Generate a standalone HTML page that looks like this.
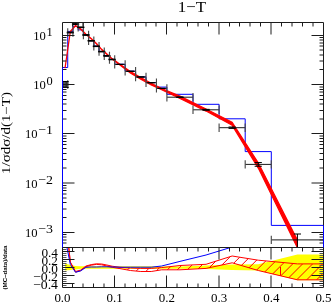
<!DOCTYPE html>
<html><head><meta charset="utf-8"><title>1-T</title>
<style>html,body{margin:0;padding:0;background:#fff;}svg{display:block;will-change:transform;}</style>
</head><body>
<svg width="332" height="303" viewBox="0 0 332 303">
<defs>
<clipPath id="cm"><rect x="62.5" y="22.5" width="261.0" height="225.0"/></clipPath>
<clipPath id="cr"><rect x="62.5" y="247.5" width="261.0" height="40.0"/></clipPath>
<clipPath id="ch"><polygon points="70.33,262.00 75.55,271.50 80.77,270.00 85.99,266.00 91.21,264.60 96.43,263.80 101.65,264.00 106.87,265.00 112.09,266.20 119.92,267.30 130.36,268.00 140.80,268.40 151.24,268.40 161.68,267.60 179.95,265.50 206.05,264.30 232.15,256.00 258.25,260.20 297.40,263.90 323.50,263.90 323.50,279.80 297.40,279.80 258.25,270.50 232.15,262.80 206.05,268.40 179.95,269.80 161.68,269.80 151.24,271.50 140.80,271.50 130.36,270.50 119.92,268.60 112.09,267.30 106.87,266.00 101.65,264.80 96.43,264.40 91.21,265.20 85.99,266.60 80.77,270.60 75.55,272.10 70.33,262.60"/></clipPath>
</defs>
<rect width="332" height="303" fill="#fff"/>
<g clip-path="url(#cr)">
<polygon fill="#ffff00" points="65.11,263.60 70.33,265.00 75.55,266.00 80.77,266.30 85.99,266.30 91.21,266.30 96.43,266.30 101.65,266.30 106.87,266.30 112.09,266.30 119.92,266.30 130.36,266.30 140.80,266.30 151.24,266.30 161.68,266.40 179.95,266.50 206.05,265.50 232.15,264.60 258.25,264.30 297.40,254.40 323.50,254.40 323.50,280.20 297.40,280.20 258.25,270.60 232.15,270.00 206.05,269.10 179.95,268.80 161.68,268.70 151.24,268.70 140.80,268.70 130.36,268.70 119.92,268.70 112.09,268.70 106.87,268.70 101.65,268.70 96.43,268.70 91.21,268.70 85.99,268.70 80.77,268.70 75.55,269.50 70.33,270.00 65.11,270.60"/>
<g clip-path="url(#ch)" stroke="#ff0000" stroke-width="1">
<line x1="7.9" y1="290" x2="52.9" y2="245"/>
<line x1="17.8" y1="290" x2="62.8" y2="245"/>
<line x1="27.8" y1="290" x2="72.8" y2="245"/>
<line x1="37.7" y1="290" x2="82.7" y2="245"/>
<line x1="47.7" y1="290" x2="92.7" y2="245"/>
<line x1="57.6" y1="290" x2="102.6" y2="245"/>
<line x1="67.6" y1="290" x2="112.6" y2="245"/>
<line x1="77.5" y1="290" x2="122.5" y2="245"/>
<line x1="87.5" y1="290" x2="132.5" y2="245"/>
<line x1="97.4" y1="290" x2="142.4" y2="245"/>
<line x1="107.4" y1="290" x2="152.4" y2="245"/>
<line x1="117.3" y1="290" x2="162.3" y2="245"/>
<line x1="127.3" y1="290" x2="172.3" y2="245"/>
<line x1="137.2" y1="290" x2="182.2" y2="245"/>
<line x1="147.2" y1="290" x2="192.2" y2="245"/>
<line x1="157.1" y1="290" x2="202.1" y2="245"/>
<line x1="167.1" y1="290" x2="212.1" y2="245"/>
<line x1="177.0" y1="290" x2="222.0" y2="245"/>
<line x1="187.0" y1="290" x2="232.0" y2="245"/>
<line x1="196.9" y1="290" x2="241.9" y2="245"/>
<line x1="206.9" y1="290" x2="251.9" y2="245"/>
<line x1="216.8" y1="290" x2="261.8" y2="245"/>
<line x1="226.8" y1="290" x2="271.8" y2="245"/>
<line x1="236.7" y1="290" x2="281.7" y2="245"/>
<line x1="246.7" y1="290" x2="291.7" y2="245"/>
<line x1="256.6" y1="290" x2="301.6" y2="245"/>
<line x1="266.6" y1="290" x2="311.6" y2="245"/>
<line x1="276.5" y1="290" x2="321.5" y2="245"/>
<line x1="286.5" y1="290" x2="331.5" y2="245"/>
<line x1="296.5" y1="290" x2="341.5" y2="245"/>
<line x1="306.4" y1="290" x2="351.4" y2="245"/>
<line x1="316.4" y1="290" x2="361.4" y2="245"/>
<line x1="326.3" y1="290" x2="371.3" y2="245"/>
<line x1="336.3" y1="290" x2="381.3" y2="245"/>
<line x1="346.2" y1="290" x2="391.2" y2="245"/>
</g>
<polyline fill="none" stroke="#ff0000" stroke-width="1" stroke-linejoin="round" points="65.11,213.00 70.33,262.00 75.55,271.50 80.77,270.00 85.99,266.00 91.21,264.60 96.43,263.80 101.65,264.00 106.87,265.00 112.09,266.20 119.92,267.30 130.36,268.00 140.80,268.40 151.24,268.40 161.68,267.60 179.95,265.50 206.05,264.30 232.15,256.00 258.25,260.20 297.40,263.90 323.50,263.90"/>
<polyline fill="none" stroke="#ff0000" stroke-width="1" points="65.11,213.00 70.33,262.60 75.55,272.10 80.77,270.60 85.99,266.60 91.21,265.20 96.43,264.40 101.65,264.80 106.87,266.00 112.09,267.30 119.92,268.60 130.36,270.50 140.80,271.50 151.24,271.50 161.68,269.80 179.95,269.80 206.05,268.40 232.15,262.80 258.25,270.50 297.40,279.80 323.50,279.80"/>
<line x1="280.5" y1="267" x2="280.5" y2="275.6" stroke="#ff0000" stroke-width="1"/>
<polyline fill="none" stroke="#0000ff" stroke-width="1" points="65.11,238.00 70.33,264.50 75.55,272.30 80.77,270.80 85.99,267.30 91.21,267.00 96.43,267.00 101.65,266.80 106.87,266.80 112.09,267.00 119.92,267.20 130.36,267.20 140.80,267.20 151.24,267.20 161.68,266.00 179.95,261.40 206.05,255.00 232.15,247.00 258.25,240.00 297.40,220.00"/>
</g>
<g clip-path="url(#cm)">
<polyline fill="none" stroke="#0000ff" stroke-width="1" points="62.50,249.50 62.50,67.50 62.50,67.50 67.72,67.50 67.72,31.40 72.94,31.40 72.94,26.40 78.16,26.40 78.16,29.90 83.38,29.90 83.38,34.85 88.60,34.85 88.60,40.65 93.82,40.65 93.82,46.15 99.04,46.15 99.04,51.45 104.26,51.45 104.26,55.75 109.48,55.75 109.48,59.35 114.70,59.35 114.70,64.25 125.14,64.25 125.14,71.15 135.58,71.15 135.58,76.85 146.02,76.85 146.02,82.55 156.46,82.55 156.46,87.10 166.90,87.10 166.90,94.30 193.00,94.30 193.00,104.30 219.10,104.30 219.10,118.80 245.20,118.80 245.20,151.60 271.30,151.60 271.30,225.40 323.50,225.40 323.50,249.50"/>
<polygon fill="#ff0000" stroke="#ff0000" stroke-width="1.2" stroke-linejoin="round" points="65.11,67.30 70.33,31.30 75.55,25.40 80.77,29.00 85.99,34.20 91.21,38.40 96.43,43.50 101.65,49.30 106.87,54.00 112.09,58.60 119.92,64.29 130.36,71.57 140.80,77.49 151.24,83.19 161.68,88.45 179.95,96.16 206.05,108.95 232.15,122.29 258.25,162.81 297.40,240.06 297.40,247.76 258.25,168.07 232.15,125.32 206.05,111.09 179.95,98.47 161.68,89.67 151.24,84.95 140.80,79.25 130.36,72.97 119.92,65.00 112.09,59.00 106.87,54.40 101.65,49.70 96.43,43.90 91.21,38.80 85.99,34.60 80.77,29.40 75.55,25.80 70.33,31.70 65.11,67.70"/>
<g stroke="#000" fill="none">
<path stroke="#1a1a1a" stroke-width="1" d="M62.50,84.50H67.72"/>
<path stroke="#4a4a4a" stroke-width="1.15" d="M62.50,80.30V88.70M67.72,80.30V88.70"/>
<path stroke-width="1" d="M65.11,81.50V87.50M61.51,81.50H68.71M61.51,87.50H68.71"/>
<path stroke="#1a1a1a" stroke-width="1" d="M67.72,32.50H72.94"/>
<path stroke="#4a4a4a" stroke-width="1.15" d="M67.72,28.30V36.70M72.94,28.30V36.70"/>
<path stroke-width="1" d="M70.33,32.10V32.90M66.73,32.10H73.93M66.73,32.90H73.93"/>
<path stroke="#1a1a1a" stroke-width="1" d="M72.94,23.90H78.16"/>
<path stroke="#4a4a4a" stroke-width="1.15" d="M72.94,19.70V28.10M78.16,19.70V28.10"/>
<path stroke-width="1" d="M75.55,23.30V24.50M71.95,23.30H79.15M71.95,24.50H79.15"/>
<path stroke="#1a1a1a" stroke-width="1" d="M78.16,27.30H83.38"/>
<path stroke="#4a4a4a" stroke-width="1.15" d="M78.16,23.10V31.50M83.38,23.10V31.50"/>
<path stroke-width="1" d="M80.77,27.00V27.60M77.17,27.00H84.37M77.17,27.60H84.37"/>
<path stroke="#1a1a1a" stroke-width="1" d="M83.38,35.00H88.60"/>
<path stroke="#4a4a4a" stroke-width="1.15" d="M83.38,30.80V39.20M88.60,30.80V39.20"/>
<path stroke-width="1" d="M85.99,34.70V35.30M82.39,34.70H89.59M82.39,35.30H89.59"/>
<path stroke="#1a1a1a" stroke-width="1" d="M88.60,40.80H93.82"/>
<path stroke="#4a4a4a" stroke-width="1.15" d="M88.60,36.60V45.00M93.82,36.60V45.00"/>
<path stroke-width="1" d="M91.21,40.50V41.10M87.61,40.50H94.81M87.61,41.10H94.81"/>
<path stroke="#1a1a1a" stroke-width="1" d="M93.82,46.30H99.04"/>
<path stroke="#4a4a4a" stroke-width="1.15" d="M93.82,42.10V50.50M99.04,42.10V50.50"/>
<path stroke-width="1" d="M96.43,46.00V46.60M92.83,46.00H100.03M92.83,46.60H100.03"/>
<path stroke="#1a1a1a" stroke-width="1" d="M99.04,51.60H104.26"/>
<path stroke="#4a4a4a" stroke-width="1.15" d="M99.04,47.40V55.80M104.26,47.40V55.80"/>
<path stroke-width="1" d="M101.65,51.30V51.90M98.05,51.30H105.25M98.05,51.90H105.25"/>
<path stroke="#1a1a1a" stroke-width="1" d="M104.26,55.90H109.48"/>
<path stroke="#4a4a4a" stroke-width="1.15" d="M104.26,51.70V60.10M109.48,51.70V60.10"/>
<path stroke-width="1" d="M106.87,55.60V56.20M103.27,55.60H110.47M103.27,56.20H110.47"/>
<path stroke="#1a1a1a" stroke-width="1" d="M109.48,59.50H114.70"/>
<path stroke="#4a4a4a" stroke-width="1.15" d="M109.48,55.30V63.70M114.70,55.30V63.70"/>
<path stroke-width="1" d="M112.09,59.20V59.80M108.49,59.20H115.69M108.49,59.80H115.69"/>
<path stroke="#1a1a1a" stroke-width="1" d="M114.70,64.40H125.14"/>
<path stroke="#4a4a4a" stroke-width="1.15" d="M114.70,60.20V68.60M125.14,60.20V68.60"/>
<path stroke-width="1" d="M119.92,64.40V64.40M116.32,64.40H123.52M116.32,64.40H123.52"/>
<path stroke="#1a1a1a" stroke-width="1" d="M125.14,71.30H135.58"/>
<path stroke="#4a4a4a" stroke-width="1.15" d="M125.14,67.10V75.50M135.58,67.10V75.50"/>
<path stroke-width="1" d="M130.36,71.30V71.30M126.76,71.30H133.96M126.76,71.30H133.96"/>
<path stroke="#1a1a1a" stroke-width="1" d="M135.58,77.00H146.02"/>
<path stroke="#4a4a4a" stroke-width="1.15" d="M135.58,72.80V81.20M146.02,72.80V81.20"/>
<path stroke-width="1" d="M140.80,77.00V77.00M137.20,77.00H144.40M137.20,77.00H144.40"/>
<path stroke="#1a1a1a" stroke-width="1" d="M146.02,82.70H156.46"/>
<path stroke="#4a4a4a" stroke-width="1.15" d="M146.02,78.50V86.90M156.46,78.50V86.90"/>
<path stroke-width="1" d="M151.24,82.70V82.70M147.64,82.70H154.84M147.64,82.70H154.84"/>
<path stroke="#1a1a1a" stroke-width="1" d="M156.46,88.40H166.90"/>
<path stroke="#4a4a4a" stroke-width="1.15" d="M156.46,84.20V92.60M166.90,84.20V92.60"/>
<path stroke-width="1" d="M161.68,88.40V88.40M158.08,88.40H165.28M158.08,88.40H165.28"/>
<path stroke="#1a1a1a" stroke-width="1" d="M166.90,97.20H193.00"/>
<path stroke="#4a4a4a" stroke-width="1.15" d="M166.90,93.00V101.40M193.00,93.00V101.40"/>
<path stroke-width="1" d="M179.95,96.90V97.50M176.35,96.90H183.55M176.35,97.50H183.55"/>
<path stroke="#1a1a1a" stroke-width="1" d="M193.00,109.80H219.10"/>
<path stroke="#4a4a4a" stroke-width="1.15" d="M193.00,105.60V114.00M219.10,105.60V114.00"/>
<path stroke-width="1" d="M206.05,109.35V110.25M202.45,109.35H209.65M202.45,110.25H209.65"/>
<path stroke="#1a1a1a" stroke-width="1" d="M219.10,127.70H245.20"/>
<path stroke="#4a4a4a" stroke-width="1.15" d="M219.10,123.50V131.90M245.20,123.50V131.90"/>
<path stroke-width="1" d="M232.15,127.00V128.40M228.55,127.00H235.75M228.55,128.40H235.75"/>
<path stroke="#1a1a1a" stroke-width="1" d="M245.20,164.40H271.30"/>
<path stroke="#4a4a4a" stroke-width="1.15" d="M245.20,160.20V168.60M271.30,160.20V168.60"/>
<path stroke-width="1" d="M258.25,162.55V166.25M254.65,162.55H261.85M254.65,166.25H261.85"/>
<path stroke="#1a1a1a" stroke-width="1" d="M271.30,239.90H323.50"/>
<path stroke="#4a4a4a" stroke-width="1.15" d="M271.30,235.70V244.10M323.50,235.70V244.10"/>
<path stroke-width="1" d="M297.40,234.00V251.90M293.80,234.00H301.00M293.80,251.90H301.00"/>
<path stroke-width="0.9" stroke="#222" d="M62.51,83.0H68.71M62.51,86.0H68.71M63.71,81.5V87.5M66.51,81.5V87.5"/>
</g>
</g>
<path fill="none" stroke="#555" stroke-width="1" d="M62.5,285.50h4 M323.5,285.50h-4 M62.5,281.50h4 M323.5,281.50h-4 M62.5,279.50h4 M323.5,279.50h-4 M62.5,277.50h4 M323.5,277.50h-4 M62.5,273.50h4 M323.5,273.50h-4 M62.5,271.50h4 M323.5,271.50h-4 M62.5,269.50h4 M323.5,269.50h-4 M62.5,265.50h4 M323.5,265.50h-4 M62.5,263.50h4 M323.5,263.50h-4 M62.5,261.50h4 M323.5,261.50h-4 M62.5,257.50h4 M323.5,257.50h-4 M62.5,255.50h4 M323.5,255.50h-4 M62.5,253.50h4 M323.5,253.50h-4 M62.5,249.50h4 M323.5,249.50h-4"/>
<path fill="none" stroke="#1c1c1c" stroke-width="1" d="M62.5,22.5H323.5V287.5H62.5Z M62.5,247.5H323.5 M72.50,22.5v4 M72.50,247.5v4 M72.50,287.5v-4 M83.00,22.5v4 M83.00,247.5v4 M83.00,287.5v-4 M93.50,22.5v4 M93.50,247.5v4 M93.50,287.5v-4 M104.00,22.5v4 M104.00,247.5v4 M104.00,287.5v-4 M114.50,22.5v12 M114.50,247.5v12 M114.50,287.5v-12 M125.00,22.5v4 M125.00,247.5v4 M125.00,287.5v-4 M135.50,22.5v4 M135.50,247.5v4 M135.50,287.5v-4 M146.00,22.5v4 M146.00,247.5v4 M146.00,287.5v-4 M156.00,22.5v4 M156.00,247.5v4 M156.00,287.5v-4 M166.50,22.5v12 M166.50,247.5v12 M166.50,287.5v-12 M177.00,22.5v4 M177.00,247.5v4 M177.00,287.5v-4 M187.50,22.5v4 M187.50,247.5v4 M187.50,287.5v-4 M198.00,22.5v4 M198.00,247.5v4 M198.00,287.5v-4 M208.50,22.5v4 M208.50,247.5v4 M208.50,287.5v-4 M219.00,22.5v12 M219.00,247.5v12 M219.00,287.5v-12 M229.50,22.5v4 M229.50,247.5v4 M229.50,287.5v-4 M239.50,22.5v4 M239.50,247.5v4 M239.50,287.5v-4 M250.00,22.5v4 M250.00,247.5v4 M250.00,287.5v-4 M260.50,22.5v4 M260.50,247.5v4 M260.50,287.5v-4 M271.00,22.5v12 M271.00,247.5v12 M271.00,287.5v-12 M281.50,22.5v4 M281.50,247.5v4 M281.50,287.5v-4 M292.00,22.5v4 M292.00,247.5v4 M292.00,287.5v-4 M302.50,22.5v4 M302.50,247.5v4 M302.50,287.5v-4 M313.00,22.5v4 M313.00,247.5v4 M313.00,287.5v-4 M62.5,243.00h4 M323.5,243.00h-4 M62.5,240.00h4 M323.5,240.00h-4 M62.5,237.00h4 M323.5,237.00h-4 M62.5,234.50h4 M323.5,234.50h-4 M62.5,232.50h12 M323.5,232.50h-12 M62.5,217.50h4 M323.5,217.50h-4 M62.5,209.00h4 M323.5,209.00h-4 M62.5,202.50h4 M323.5,202.50h-4 M62.5,198.00h4 M323.5,198.00h-4 M62.5,194.00h4 M323.5,194.00h-4 M62.5,190.50h4 M323.5,190.50h-4 M62.5,188.00h4 M323.5,188.00h-4 M62.5,185.50h4 M323.5,185.50h-4 M62.5,183.00h12 M323.5,183.00h-12 M62.5,168.00h4 M323.5,168.00h-4 M62.5,159.50h4 M323.5,159.50h-4 M62.5,153.50h4 M323.5,153.50h-4 M62.5,148.50h4 M323.5,148.50h-4 M62.5,144.50h4 M323.5,144.50h-4 M62.5,141.50h4 M323.5,141.50h-4 M62.5,138.50h4 M323.5,138.50h-4 M62.5,136.00h4 M323.5,136.00h-4 M62.5,133.50h12 M323.5,133.50h-12 M62.5,119.00h4 M323.5,119.00h-4 M62.5,110.50h4 M323.5,110.50h-4 M62.5,104.00h4 M323.5,104.00h-4 M62.5,99.50h4 M323.5,99.50h-4 M62.5,95.50h4 M323.5,95.50h-4 M62.5,92.00h4 M323.5,92.00h-4 M62.5,89.50h4 M323.5,89.50h-4 M62.5,87.00h4 M323.5,87.00h-4 M62.5,84.50h12 M323.5,84.50h-12 M62.5,69.50h4 M323.5,69.50h-4 M62.5,61.00h4 M323.5,61.00h-4 M62.5,55.00h4 M323.5,55.00h-4 M62.5,50.00h4 M323.5,50.00h-4 M62.5,46.00h4 M323.5,46.00h-4 M62.5,43.00h4 M323.5,43.00h-4 M62.5,40.00h4 M323.5,40.00h-4 M62.5,37.50h4 M323.5,37.50h-4 M62.5,35.50h12 M323.5,35.50h-12 M62.5,283.50h12 M323.5,283.50h-12 M62.5,275.50h12 M323.5,275.50h-12 M62.5,267.50h12 M323.5,267.50h-12 M62.5,259.50h12 M323.5,259.50h-12 M62.5,251.50h12 M323.5,251.50h-12"/>
<path fill="none" stroke="#0000ff" stroke-width="1" d="M62.5,247.5V67.5M323.5,247.5V225.4"/>
<text x="191.9" y="11.7" font-size="15.4" text-anchor="middle" textLength="28.4" lengthAdjust="spacingAndGlyphs" font-family="Liberation Serif, serif" fill="#000">1−T</text>
<text x="62.5" y="302" font-size="12.6" text-anchor="middle" textLength="16.2" lengthAdjust="spacingAndGlyphs" font-family="Liberation Serif, serif" fill="#000">0.0</text>
<text x="114.7" y="302" font-size="12.6" text-anchor="middle" textLength="16.2" lengthAdjust="spacingAndGlyphs" font-family="Liberation Serif, serif" fill="#000">0.1</text>
<text x="166.9" y="302" font-size="12.6" text-anchor="middle" textLength="16.2" lengthAdjust="spacingAndGlyphs" font-family="Liberation Serif, serif" fill="#000">0.2</text>
<text x="219.1" y="302" font-size="12.6" text-anchor="middle" textLength="16.2" lengthAdjust="spacingAndGlyphs" font-family="Liberation Serif, serif" fill="#000">0.3</text>
<text x="271.3" y="302" font-size="12.6" text-anchor="middle" textLength="16.2" lengthAdjust="spacingAndGlyphs" font-family="Liberation Serif, serif" fill="#000">0.4</text>
<text x="323.5" y="302" font-size="12.6" text-anchor="middle" textLength="16.2" lengthAdjust="spacingAndGlyphs" font-family="Liberation Serif, serif" fill="#000">0.5</text>
<text x="45.8" y="39.8" font-size="12.6" text-anchor="end" font-family="Liberation Serif, serif" fill="#000">10</text>
<text x="52.8" y="35.8" font-size="12.4" text-anchor="end" font-family="Liberation Serif, serif" fill="#000">1</text>
<text x="45.8" y="89.0" font-size="12.6" text-anchor="end" font-family="Liberation Serif, serif" fill="#000">10</text>
<text x="52.8" y="85.0" font-size="12.4" text-anchor="end" font-family="Liberation Serif, serif" fill="#000">0</text>
<text x="37.6" y="138.2" font-size="12.6" text-anchor="end" font-family="Liberation Serif, serif" fill="#000">10</text>
<text x="52.9" y="134.2" font-size="12.4" text-anchor="end" textLength="14.8" lengthAdjust="spacingAndGlyphs" font-family="Liberation Serif, serif" fill="#000">−1</text>
<text x="37.6" y="187.5" font-size="12.6" text-anchor="end" font-family="Liberation Serif, serif" fill="#000">10</text>
<text x="52.9" y="183.5" font-size="12.4" text-anchor="end" textLength="14.8" lengthAdjust="spacingAndGlyphs" font-family="Liberation Serif, serif" fill="#000">−2</text>
<text x="37.6" y="236.8" font-size="12.6" text-anchor="end" font-family="Liberation Serif, serif" fill="#000">10</text>
<text x="52.9" y="232.8" font-size="12.4" text-anchor="end" textLength="14.8" lengthAdjust="spacingAndGlyphs" font-family="Liberation Serif, serif" fill="#000">−3</text>
<text x="58.0" y="256.7" font-size="12.6" text-anchor="end" textLength="16.6" lengthAdjust="spacingAndGlyphs" font-family="Liberation Serif, serif" fill="#000">0.4</text>
<text x="58.0" y="264.7" font-size="12.6" text-anchor="end" textLength="16.6" lengthAdjust="spacingAndGlyphs" font-family="Liberation Serif, serif" fill="#000">0.2</text>
<text x="58.0" y="272.7" font-size="12.6" text-anchor="end" textLength="16.6" lengthAdjust="spacingAndGlyphs" font-family="Liberation Serif, serif" fill="#000">0.0</text>
<text x="58.0" y="280.7" font-size="12.6" text-anchor="end" textLength="25.0" lengthAdjust="spacingAndGlyphs" font-family="Liberation Serif, serif" fill="#000">−0.2</text>
<text x="58.0" y="288.7" font-size="12.6" text-anchor="end" textLength="25.0" lengthAdjust="spacingAndGlyphs" font-family="Liberation Serif, serif" fill="#000">−0.4</text>
<text transform="translate(10.4,133) rotate(-90)" font-size="12" text-anchor="middle" textLength="82" lengthAdjust="spacingAndGlyphs" font-family="Liberation Serif, serif" fill="#000">1/σdσ/d(1−T)</text>
<text transform="translate(6.8,267.5) rotate(-90)" font-size="5.6" font-weight="bold" text-anchor="middle" textLength="44" lengthAdjust="spacingAndGlyphs" font-family="Liberation Sans, sans-serif" fill="#000">(MC−data)/data</text>
</svg>
</body></html>
